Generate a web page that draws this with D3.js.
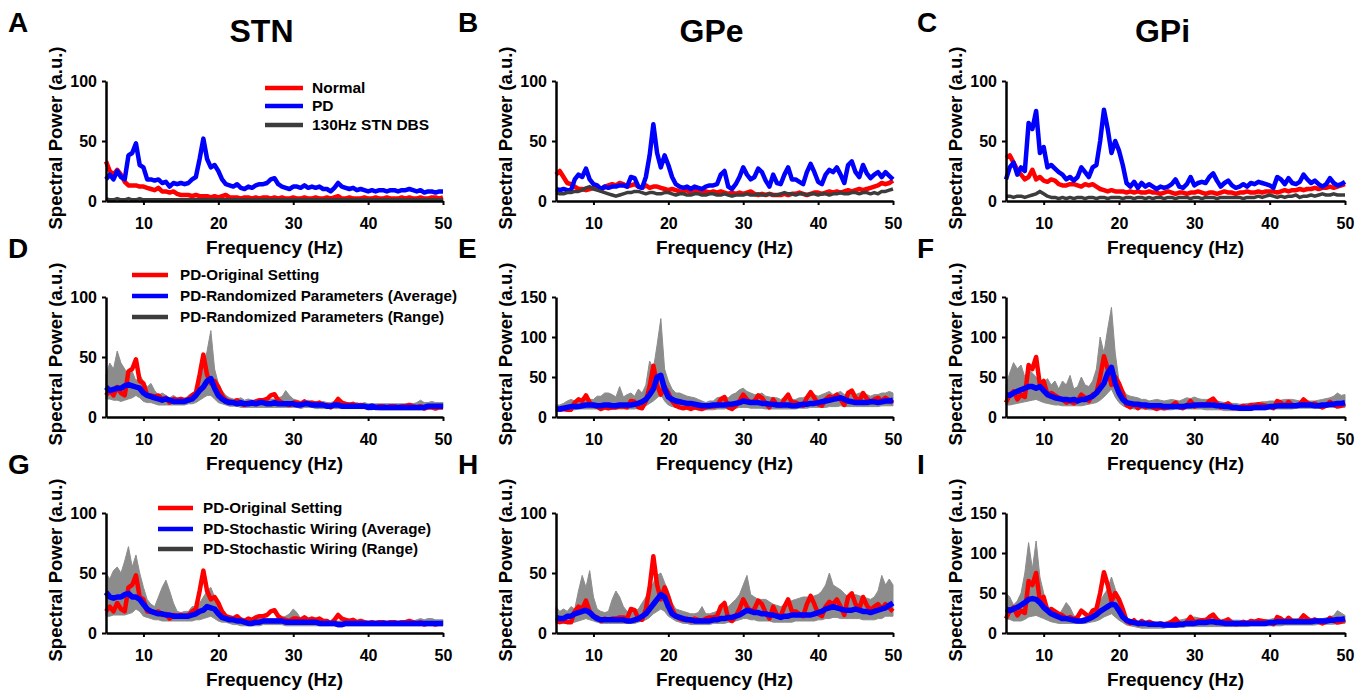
<!DOCTYPE html>
<html>
<head>
<meta charset="utf-8">
<script src="https://cdn.jsdelivr.net/npm/d3@7"></script>
<style>
  body { margin: 0; background: #fff; }
  text { font-family: Arial, "Liberation Sans", Helvetica, sans-serif; font-weight: bold; fill: #000; }
</style>
</head>
<body>
<svg width="1371" height="694"></svg>
<script>
// frequency grid (Hz)
const freq = [
  5,5.5,6,6.5,7,7.5,8,8.5,9,9.5,
  10,10.5,11,11.5,12,12.5,13,13.5,14,14.5,
  15,15.5,16,16.5,17,17.5,18,18.5,19,19.5,
  20,20.5,21,21.5,22,22.5,23,23.5,24,24.5,
  25,25.5,26,26.5,27,27.5,28,28.5,29,29.5,
  30,30.5,31,31.5,32,32.5,33,33.5,34,34.5,
  35,35.5,36,36.5,37,37.5,38,38.5,39,39.5,
  40,40.5,41,41.5,42,42.5,43,43.5,44,44.5,
  45,45.5,46,46.5,47,47.5,48,48.5,49,49.5,
  50];

const titles = ["STN", "GPe", "GPi"];
const letters = ["A","B","C","D","E","F","G","H","I"];
const legendRow1 = ["Normal", "PD", "130Hz STN DBS"];
const legendRow2 = ["PD-Original Setting", "PD-Randomized Parameters (Average)", "PD-Randomized Parameters (Range)"];
const legendRow3 = ["PD-Original Setting", "PD-Stochastic Wiring (Average)", "PD-Stochastic Wiring (Range)"];

// ---- row 1: Normal / PD / DBS ----
const stnNormal = [33,25,22,26,22,16,13,13,13,12, 12,11,10,9,11,8,8,7,8,6, 5,5,5,4,5,4,4,4,3,4,
  3,4,5,3,3,3,2,3,3,2, 3,2,3,3,2,3,2,3,2,2, 3,2,2,3,2,2,3,2,2,3, 2,3,4,2,2,3,2,2,2,3,
  2,2,3,2,2,3,2,2,2,3, 2,3,2,2,3,2,2,3,3,2, 3];
const stnPD = [18,22,18,25,20,18,38,40,48,30, 28,18,18,17,18,15,16,12,15,14, 15,14,15,18,20,35,52,35,28,30,
  25,18,14,13,12,14,11,10,12,11, 13,14,14,15,18,19,14,12,11,10, 12,12,11,13,11,12,11,12,10,10,
  8,11,15,12,11,10,11,9,10,9, 8,9,8,9,9,8,9,9,8,9, 9,10,9,8,9,7,8,8,7,8, 8];
const stnDBS = [2,1,1,2,1,1,2,1,1,2, 1,1,1,1,1,1,1,1,1,1, 1,1,1,1,1,1,1,1,1,1,
  1,1,1,1,1,1,1,1,1,1, 1,1,1,1,1,1,1,1,1,1, 1,1,1,1,1,1,1,1,1,1, 1,1,1,1,1,1,1,1,1,1,
  1,1,1,1,1,1,1,1,1,1, 1,1,1,1,1,1,1,1,1,1, 1];

const gpeNormal = [22,25,20,15,14,12,10,10,9,10, 11,10,9,12,13,14,13,15,14,12, 13,14,12,11,13,11,12,12,11,10,
  9,10,9,8,8,9,7,8,9,7, 8,7,8,7,8,7,6,7,6,7, 6,7,8,6,5,6,5,6,5,5,
  5,6,5,6,6,7,6,5,6,7, 7,6,7,8,7,8,7,8,9,8, 9,10,9,10,11,12,13,15,14,15, 17];
const gpePD = [10,9,10,9,9,18,22,20,27,18, 14,13,10,12,11,12,12,13,13,12, 20,19,12,11,20,38,64,40,28,38,
  30,20,14,12,11,12,10,12,11,10, 12,13,13,14,22,25,12,10,14,20, 28,22,18,20,27,24,17,12,22,15,
  14,22,28,18,18,16,14,24,31,24, 16,14,22,26,24,28,22,15,30,33, 24,20,30,23,19,22,24,20,24,21, 18];
const gpeDBS = [7,6,6,7,7,8,8,9,11,12, 10,9,8,7,6,5,4,5,6,7, 7,8,8,7,6,7,7,6,6,7,
  7,6,5,6,6,5,5,6,6,5, 5,6,6,5,5,6,5,4,5,5, 5,6,5,5,6,5,5,6,5,5,
  6,7,6,6,5,6,6,5,6,6, 5,6,6,5,6,6,7,6,6,7, 7,6,7,7,6,7,6,8,8,9, 10];

const gpiNormal = [36,38,32,26,22,18,20,26,18,20, 17,16,18,17,14,13,13,14,14,13, 12,14,13,14,12,10,9,8,9,8,
  8,8,7,8,7,8,7,7,8,7, 7,6,7,8,7,6,7,7,6,7, 7,8,7,6,7,7,6,7,8,7,
  7,6,7,7,8,7,7,8,7,8, 8,8,7,8,9,8,9,9,10,9, 10,10,11,10,11,11,12,11,12,13, 14];
const gpiPD = [18,28,32,22,28,25,65,60,75,40, 45,28,30,27,24,22,18,20,17,20, 28,24,20,28,30,50,76,60,40,50,
  42,30,15,12,16,11,15,12,14,12, 10,12,11,12,14,18,12,11,14,20, 13,15,16,15,20,23,17,12,15,17,
  13,11,12,14,12,15,14,16,15,14, 13,11,20,18,14,19,15,14,16,22, 18,15,17,14,12,14,19,15,13,14, 16];
const gpiDBS = [4,4,3,4,4,3,4,5,6,8, 6,4,3,3,2,3,2,3,2,3, 3,2,3,3,2,3,3,2,3,3,
  3,2,3,3,2,3,3,2,3,2, 3,3,2,3,3,2,3,3,3,2, 3,3,2,3,3,3,2,3,3,3,
  3,3,3,2,3,3,3,4,3,4, 5,4,3,4,3,4,4,5,3,4, 4,5,4,5,6,5,5,6,5,5, 5];

// ---- row 2: randomized parameters (average, range low/high) ----
const stnRandAvg = [25,22,23,24,24,26,27,26,25,24, 20,18,17,16,15,14,15,14,13,13, 13,13,14,15,18,22,25,30,32,24,
  18,15,13,12,12,11,12,11,11,12, 11,12,12,11,11,12,11,11,11,11, 11,10,10,11,11,10,10,10,10,9,
  9,10,10,9,9,9,9,9,9,9, 8,9,8,8,8,8,8,8,8,8, 8,8,8,8,8,8,9,9,9,9, 9];
const stnRandHi = [35,45,40,55,45,40,35,38,30,35, 30,25,28,22,18,20,18,16,18,16, 16,15,18,20,22,30,40,55,72,40,
  28,22,18,16,15,15,16,14,15,14, 14,15,14,14,15,15,16,17,22,18, 15,14,13,13,14,13,13,12,13,12,
  12,13,12,12,12,12,11,12,11,12, 11,11,11,11,11,11,11,11,11,11, 11,11,11,12,14,12,12,13,12,12, 12];
const stnRandLo = [15,15,14,14,13,14,15,16,18,16, 13,12,12,11,10,10,10,10,10,10, 10,10,11,11,12,14,16,18,18,15,
  12,11,10,9,9,9,8,8,8,8, 8,8,8,8,8,8,8,8,8,8, 8,8,7,8,8,8,7,7,7,7,
  7,7,7,7,7,7,7,7,7,7, 6,6,7,6,6,6,6,6,6,6, 6,6,6,6,6,6,7,7,7,7, 7];

const gpeRandAvg = [10,10,11,12,13,13,13,14,15,15, 15,14,14,15,15,14,14,15,15,15, 15,16,17,19,22,28,35,50,52,35,
  25,22,20,19,18,17,17,16,15,14, 14,14,15,15,15,15,16,16,17,18, 20,19,18,18,18,17,17,16,16,15,
  15,15,15,14,14,15,16,16,17,17, 18,19,20,21,22,23,24,22,20,19, 18,18,18,18,19,19,18,19,20,20, 21];
const gpeRandHi = [15,15,17,20,22,20,20,24,25,22, 22,26,26,30,30,28,25,38,25,28, 30,26,35,30,40,70,60,90,123,60,
  45,35,30,30,28,26,25,24,22,20, 18,20,20,24,25,25,24,28,30,34, 36,32,30,28,28,30,26,25,24,24,
  22,24,24,22,22,24,24,26,28,28, 26,28,30,32,28,30,32,28,30,32, 28,30,30,28,26,28,28,30,30,32, 30];
const gpeRandLo = [7,8,8,9,9,9,10,10,10,10, 10,10,10,10,10,10,10,10,10,10, 10,10,11,12,14,17,20,24,28,20,
  15,13,12,11,11,10,10,10,9,9, 9,9,9,10,10,10,11,11,11,12, 12,12,11,11,11,11,10,10,10,10,
  10,10,10,10,10,11,11,11,12,12, 12,12,12,13,13,13,14,13,13,13, 13,13,13,13,13,13,13,14,14,14, 14];

const gpiRandAvg = [28,27,30,32,34,36,38,38,36,38, 33,28,26,24,23,22,22,21,22,20, 22,22,24,26,30,36,42,55,62,42,
  30,22,18,17,16,16,15,15,14,14, 14,14,13,13,13,13,13,13,14,14, 15,15,15,15,15,15,14,14,13,13,
  12,12,11,11,11,11,12,12,12,12, 13,13,14,14,14,14,14,14,15,15, 15,15,14,14,15,15,16,16,17,17, 18];
const gpiRandHi = [40,55,68,60,65,50,60,55,50,45, 42,48,40,45,35,45,40,52,35,38, 50,40,38,45,60,100,80,110,137,80,
  45,35,28,26,25,24,22,22,20,21, 22,21,20,21,22,21,20,22,24,23, 25,23,22,22,22,21,20,19,18,18,
  17,17,16,16,17,17,18,18,19,19, 20,20,20,21,22,22,22,21,20,20, 20,20,20,21,22,23,24,26,30,27, 28];
const gpiRandLo = [15,15,16,17,18,19,20,21,22,20, 18,17,16,15,15,14,14,14,14,14, 14,15,16,17,18,21,25,30,35,25,
  18,14,12,11,10,10,10,10,9,9, 9,9,9,9,9,10,10,10,10,10, 10,10,10,9,9,9,9,9,8,8,
  8,8,8,8,8,8,9,9,9,9, 10,10,10,10,10,10,10,11,11,11, 11,11,11,11,11,12,12,12,12,12, 12];

// ---- row 3: stochastic wiring (average, range low/high) ----
const stnWireAvg = [34,30,29,30,30,32,33,30,30,28, 24,20,18,17,16,16,15,15,14,14, 14,14,14,15,16,18,19,22,21,20,
  16,13,12,11,11,10,10,9,8,8, 9,9,10,10,10,10,10,10,9,9, 9,9,9,9,9,9,9,8,8,8,
  8,8,7,7,8,8,8,8,8,8, 8,8,8,8,8,8,8,8,8,8, 8,8,8,8,8,8,8,8,8,8, 8];
const stnWireHi = [50,45,52,55,50,60,72,55,65,50, 38,28,24,22,30,38,44,35,25,18, 17,18,18,22,22,25,30,35,38,30,
  22,16,14,14,14,13,13,12,12,12, 12,12,13,12,12,12,12,13,14,16, 20,17,12,12,12,11,11,11,11,11,
  10,10,10,10,10,10,10,10,10,10, 10,10,10,10,10,10,10,10,10,10, 10,10,10,11,12,11,12,12,11,11, 11];
const stnWireLo = [14,14,15,15,15,15,16,17,20,18, 14,13,12,11,11,10,10,10,10,10, 10,10,10,10,11,11,12,13,14,12,
  10,9,9,8,7,7,6,6,6,6, 6,6,7,7,7,7,7,7,6,6, 6,6,6,6,6,6,6,6,6,6,
  6,6,5,5,6,6,6,6,6,6, 6,6,6,6,6,6,6,6,6,6, 6,6,6,6,6,6,6,6,6,6, 6];

const gpeWireAvg = [13,12,12,14,14,16,17,18,19,17, 14,12,11,11,11,11,11,11,11,10, 10,11,12,14,16,20,24,28,32,30,
  22,16,14,13,12,11,11,10,10,10, 10,10,11,11,12,12,13,13,14,15, 17,19,18,17,17,16,16,15,15,14,
  13,14,14,15,15,15,15,15,15,16, 17,18,20,21,22,21,20,19,19,19, 20,19,18,18,17,18,19,20,21,23, 25];
const gpeWireHi = [22,18,20,18,22,20,35,48,38,52, 30,20,18,17,18,28,35,30,22,18, 17,18,20,25,30,35,42,48,50,42,
  35,25,20,19,18,17,16,16,17,22, 16,16,17,18,20,21,22,25,28,32, 40,48,32,30,28,28,28,26,24,23,
  22,23,25,27,28,29,30,30,30,31, 32,35,40,50,40,38,36,33,30,31, 32,31,30,29,28,30,35,48,40,45, 40];
const gpeWireLo = [9,9,8,8,8,9,10,11,12,11, 10,9,8,8,8,8,8,8,8,8, 8,8,9,10,11,13,16,18,20,18,
  14,12,10,9,8,8,7,7,7,7, 7,7,8,8,8,8,9,9,10,11, 12,12,11,11,10,10,10,10,9,9,
  9,9,9,9,10,10,10,10,10,10, 11,11,12,12,13,13,12,12,12,12, 12,12,11,11,11,11,12,12,14,14, 14];

const gpiWireAvg = [30,28,30,32,35,38,42,43,42,38, 32,28,24,22,20,18,18,17,16,15, 15,16,18,20,23,27,30,33,36,35,
  28,20,16,14,13,12,12,12,11,11, 11,11,10,10,10,10,11,11,12,12, 12,13,13,13,14,14,13,13,12,12,
  12,12,12,12,12,12,12,12,12,12, 13,13,14,14,14,14,14,14,14,14, 14,14,15,15,15,15,16,16,17,17, 18];
const gpiWireHi = [50,45,35,40,50,75,113,80,115,70, 50,30,25,22,22,30,38,32,22,18, 18,20,22,25,30,40,48,55,70,55,
  38,25,18,17,16,15,14,14,14,13, 13,13,13,14,14,15,16,17,18,19, 20,19,18,19,20,19,18,17,17,16,
  16,16,16,15,15,16,16,16,16,17, 17,18,18,18,18,18,18,18,18,17, 17,18,18,18,18,19,20,22,28,25, 22];
const gpiWireLo = [18,17,15,15,15,17,20,21,22,20, 18,16,14,13,12,12,12,12,12,12, 12,12,13,14,15,17,20,22,24,20,
  16,13,10,9,8,7,6,6,6,6, 6,6,6,7,7,7,7,7,8,8, 8,8,8,8,8,8,8,8,8,8,
  8,8,8,8,8,9,9,9,9,9, 9,9,9,9,10,10,10,10,10,10, 10,10,10,11,11,11,11,11,12,12, 12];

// ---- layout ----
const RED = "#ff0000", BLUE = "#0000ff", DARK = "#3c3c3c", RANGE = "#8c8c8c";
const colX = [106, 556, 1006];
const colW = [337, 337, 339];
const rowY = [81, 297, 513];
const plotH = 120;

const panels = [
  { r: 0, c: 0, ymax: 100, lines: [[stnNormal, RED, 4.5], [stnPD, BLUE, 4.5], [stnDBS, DARK, 3.5]] },
  { r: 0, c: 1, ymax: 100, lines: [[gpeNormal, RED, 4.5], [gpePD, BLUE, 4.5], [gpeDBS, DARK, 3.5]] },
  { r: 0, c: 2, ymax: 100, lines: [[gpiNormal, RED, 4.5], [gpiPD, BLUE, 4.5], [gpiDBS, DARK, 3.5]] },
  { r: 1, c: 0, ymax: 100, range: [stnRandLo, stnRandHi], lines: [[stnPD, RED, 4.5], [stnRandAvg, BLUE, 5.5]] },
  { r: 1, c: 1, ymax: 150, range: [gpeRandLo, gpeRandHi], lines: [[gpePD, RED, 4.5], [gpeRandAvg, BLUE, 5.5]] },
  { r: 1, c: 2, ymax: 150, range: [gpiRandLo, gpiRandHi], lines: [[gpiPD, RED, 4.5], [gpiRandAvg, BLUE, 5.5]] },
  { r: 2, c: 0, ymax: 100, range: [stnWireLo, stnWireHi], lines: [[stnPD, RED, 4.5], [stnWireAvg, BLUE, 5.5]] },
  { r: 2, c: 1, ymax: 100, range: [gpeWireLo, gpeWireHi], lines: [[gpePD, RED, 4.5], [gpeWireAvg, BLUE, 5.5]] },
  { r: 2, c: 2, ymax: 150, range: [gpiWireLo, gpiWireHi], lines: [[gpiPD, RED, 4.5], [gpiWireAvg, BLUE, 5.5]] }
];

const svg = d3.select("svg");
svg.append("rect").attr("width", 1371).attr("height", 694).attr("fill", "#fff");

panels.forEach((p, k) => {
  const x0 = colX[p.c], y0 = rowY[p.r], w = colW[p.c];
  const x = d3.scaleLinear().domain([5, 50]).range([x0, x0 + w]);
  const y = d3.scaleLinear().domain([0, p.ymax]).range([y0 + plotH, y0]);
  const g = svg.append("g");

  if (p.range) {
    const area = d3.area()
      .x((d, i) => x(freq[i]))
      .y0(d => y(d[0]))
      .y1(d => y(d[1]));
    g.append("path")
      .datum(d3.zip(p.range[0], p.range[1]))
      .attr("fill", RANGE)
      .attr("stroke", RANGE)
      .attr("stroke-width", 1)
      .attr("d", area);
  }

  const line = d3.line().x((d, i) => x(freq[i])).y(d => y(d));
  p.lines.forEach(([vals, color, sw]) => {
    g.append("path")
      .datum(vals)
      .attr("fill", "none")
      .attr("stroke", color)
      .attr("stroke-width", sw)
      .attr("stroke-linejoin", "round")
      .attr("d", line);
  });

  const ticksY = p.ymax === 150 ? [0, 50, 100, 150] : [0, 50, 100];
  const ax = g.append("g")
    .attr("transform", `translate(${x0},0)`)
    .call(d3.axisLeft(y).tickValues(ticksY).tickSize(4).tickSizeOuter(0).tickPadding(5));
  const bx = g.append("g")
    .attr("transform", `translate(0,${y0 + plotH})`)
    .call(d3.axisBottom(x).tickValues([10, 20, 30, 40, 50]).tickSize(4).tickSizeOuter(0).tickPadding(13));
  [ax, bx].forEach(a => {
    a.select(".domain").attr("stroke", "#000").attr("stroke-width", 2.5);
    a.selectAll(".tick line").attr("stroke", "#000").attr("stroke-width", 2);
    a.selectAll("text").attr("font-size", 16).attr("font-family", null);
  });

  // axis titles
  g.append("text")
    .attr("transform", `translate(${x0 - 44},${y0 + plotH / 2 - 3}) rotate(-90)`)
    .attr("text-anchor", "middle")
    .attr("font-size", 18.5)
    .text("Spectral Power (a.u.)");
  g.append("text")
    .attr("x", x0 + w / 2)
    .attr("y", y0 + plotH + 53)
    .attr("text-anchor", "middle")
    .attr("font-size", 19)
    .text("Frequency (Hz)");

  // panel letter
  const letterX = [8, 458, 917][p.c];
  const letterY = [32, 258, 474][p.r];
  g.append("text").attr("x", letterX).attr("y", letterY).attr("font-size", 28).text(letters[k]);
});

// column titles
titles.forEach((t, c) => {
  svg.append("text")
    .attr("x", colX[c] + colW[c] / 2 - 13)
    .attr("y", 42)
    .attr("text-anchor", "middle")
    .attr("font-size", 32)
    .text(t);
});

// legends
function legend(labels, colors, lx0, lx1, tx, ys, fs) {
  const lg = svg.append("g");
  labels.forEach((lab, i) => {
    lg.append("line")
      .attr("x1", lx0).attr("x2", lx1).attr("y1", ys[i]).attr("y2", ys[i])
      .attr("stroke", colors[i]).attr("stroke-width", 4.5);
    lg.append("text")
      .attr("x", tx).attr("y", ys[i] + 5)
      .attr("font-size", fs)
      .text(lab);
  });
}
legend(legendRow1, [RED, BLUE, DARK], 265, 303, 312, [88, 106, 125], 15.5);
legend(legendRow2, [RED, BLUE, DARK], 132, 168, 180, [275, 296, 317], 15.2);
legend(legendRow3, [RED, BLUE, DARK], 158, 193, 203, [508, 529, 549], 15.2);
</script>
</body>
</html>
